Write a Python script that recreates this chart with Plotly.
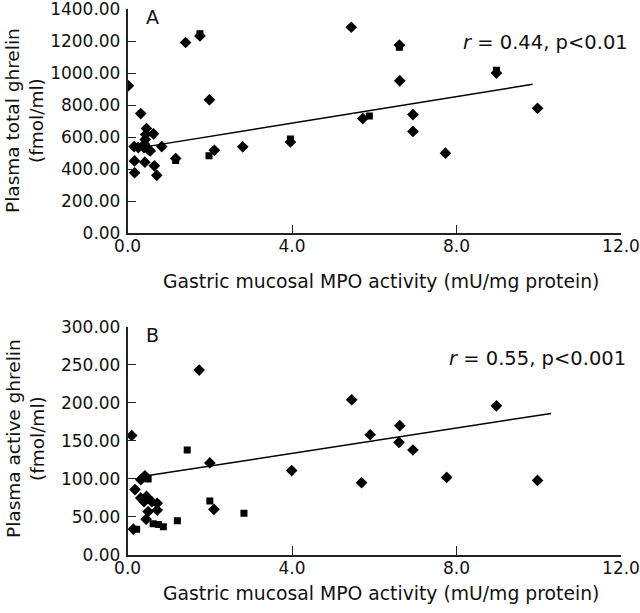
import plotly.graph_objects as go

# Panel A: plasma total ghrelin vs gastric mucosal MPO activity
a_diamond_x = [0.02, 0.32, 0.16, 0.26, 0.17, 0.17, 0.42, 0.46, 0.44, 0.43, 0.41, 0.42, 0.40, 0.50, 0.55,
               0.63, 0.65, 0.71, 0.83, 1.41, 1.99, 2.11, 2.80, 5.44, 6.62, 5.72, 6.94, 6.94, 7.73, 8.97,
               9.97, 3.96, 1.76, 6.61, 1.17]
a_diamond_y = [921, 747, 541, 535, 452, 378, 444, 654, 617, 586, 556, 545, 535, 525, 514,
               621, 421, 362, 541, 1191, 833, 518, 540, 1286, 952, 716, 741, 636, 500, 1000,
               780, 570, 1232, 1175, 467]
a_square_x = [1.76, 8.97, 3.96, 6.61, 1.17, 1.98, 5.88]
a_square_y = [1245, 1018, 588, 1162, 455, 484, 732]
a_fit_x = [0.46, 9.85]
a_fit_y = [541, 930]

# Panel B: plasma active ghrelin vs gastric mucosal MPO activity
b_diamond_x = [0.10, 1.74, 2.00, 2.10, 0.18, 0.14, 0.32, 0.42, 0.32, 0.46, 0.40, 0.59, 0.72, 0.72, 0.50,
               0.45, 5.45, 5.90, 6.62, 6.60, 6.94, 3.99, 5.69, 7.76, 8.97, 9.97]
b_diamond_y = [157, 243, 121, 60, 86, 34, 99, 104, 75, 77, 70, 70, 68, 59, 57,
               47, 204, 158, 170, 148, 138, 111, 95, 102, 196, 98]
b_square_x = [1.45, 2.00, 2.83, 1.21, 0.50, 0.22, 0.62, 0.75, 0.87]
b_square_y = [138, 71, 55, 45, 100, 34, 41, 40, 37]
b_fit_x = [0.46, 10.3]
b_fit_y = [104, 186]

x_title = "Gastric mucosal MPO activity (mU/mg protein)"
W, H = 640, 613
FONT = "DejaVu Sans"
INK = "#111"

fig = go.Figure()


def add_panel(xax, yax, dx, dy, sx, sy, fx, fy):
    fig.add_trace(go.Scatter(x=dx, y=dy, xaxis=xax, yaxis=yax, mode="markers",
                             marker=dict(symbol="diamond", size=9, color="black"),
                             showlegend=False, hoverinfo="skip"))
    fig.add_trace(go.Scatter(x=sx, y=sy, xaxis=xax, yaxis=yax, mode="markers",
                             marker=dict(symbol="square", size=7, color="black"),
                             showlegend=False, hoverinfo="skip"))
    fig.add_trace(go.Scatter(x=fx, y=fy, xaxis=xax, yaxis=yax, mode="lines",
                             line=dict(color="black", width=1.5),
                             showlegend=False, hoverinfo="skip"))


add_panel("x", "y", a_diamond_x, a_diamond_y, a_square_x, a_square_y, a_fit_x, a_fit_y)
add_panel("x2", "y2", b_diamond_x, b_diamond_y, b_square_x, b_square_y, b_fit_x, b_fit_y)


# screen pixel -> paper fraction
def px_x(p):
    return p / W


def px_y(p):
    return 1 - p / H


x_dom = [px_x(127.6), px_x(621)]
common_x = dict(range=[0, 12], dtick=4, tickformat=".1f", ticks="inside", ticklen=9,
                showline=True, linecolor="#222", linewidth=1.5, tickcolor="#222",
                showgrid=False, zeroline=False, domain=x_dom, ticklabelstandoff=-3,
                automargin=False, ticklabeloverflow="allow",
                tickfont=dict(family=FONT, size=17, color=INK))
common_y = dict(tickformat=".2f", ticks="inside", ticklen=9, showline=True,
                linecolor="#222", linewidth=1.5, tickcolor="#222", showgrid=False,
                zeroline=False, ticklabelstandoff=2, automargin=False,
                ticklabeloverflow="allow",
                tickfont=dict(family=FONT, size=17, color=INK))

fig.update_layout(
    width=W, height=H,
    margin=dict(l=0, r=0, t=0, b=0, autoexpand=False),
    paper_bgcolor="white", plot_bgcolor="white",
    xaxis=dict(common_x, anchor="y"),
    yaxis=dict(common_y, range=[0, 1400], dtick=200, anchor="x",
               domain=[px_y(233.3), px_y(9)]),
    xaxis2=dict(common_x, anchor="y2"),
    yaxis2=dict(common_y, range=[0, 300], dtick=50, anchor="x2",
                domain=[px_y(555), px_y(326.7)]),
    showlegend=False,
)

txt = dict(family=FONT, size=18.8, color=INK)
big = dict(family=FONT, size=19, color=INK)
ytl = dict(family=FONT, size=18.5, color=INK)
stat = dict(family=FONT, size=19.5, color=INK)
ann = [
    dict(text="A", x=px_x(152), y=px_y(17), font=big),
    dict(text="B", x=px_x(152), y=px_y(335), font=big),
    dict(text="<i>r</i> = 0.44, p&lt;0.01", x=px_x(630), y=px_y(42), xanchor="right", font=stat),
    dict(text="<i>r</i> = 0.55, p&lt;0.001", x=px_x(628), y=px_y(358), xanchor="right", font=stat),
    dict(text=x_title, x=px_x(381), y=px_y(281), font=txt),
    dict(text=x_title, x=px_x(381), y=px_y(593), font=txt),
    dict(text="Plasma total ghrelin<br>(fmol/ml)", x=px_x(25), y=px_y(121), textangle=-90, font=ytl),
    dict(text="Plasma active ghrelin<br>(fmol/ml)", x=px_x(25), y=px_y(439), textangle=-90, font=ytl),
]
for a in ann:
    a.setdefault("xanchor", "center")
    fig.add_annotation(xref="paper", yref="paper", showarrow=False, yanchor="middle", **a)

# drop the browser's default 8px body margin so the figure sits at the page corner
fig.write_html("out.html", config={"displayModeBar": False},
               post_script="document.body.style.margin = '0';")
